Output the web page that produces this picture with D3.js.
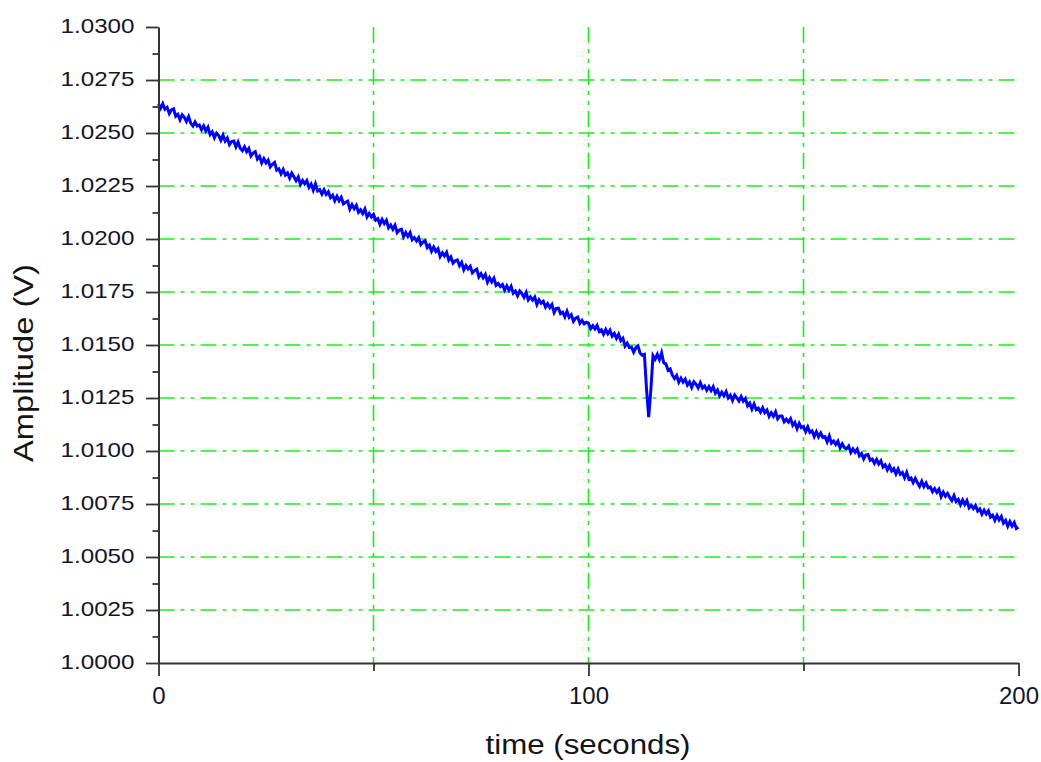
<!DOCTYPE html>
<html>
<head>
<meta charset="utf-8">
<script src="https://cdn.jsdelivr.net/npm/d3@7"></script>
<style>
  html, body { margin: 0; padding: 0; background: #ffffff; }
  svg { display: block; }
</style>
</head>
<body>
<svg id="chart" width="1041" height="762"></svg>
<script>
// Measured voltage, one sample every 0.5 s (rows of 10 s)
const amplitude = [
  1.02639, 1.02617, 1.02638, 1.02612, 1.02621, 1.02592, 1.02609, 1.02614, 1.02579, 1.02588, 1.02562, 1.02586, 1.02574, 1.02554, 1.02577, 1.02547, 1.02533, 1.02552, 1.02533, 1.02538,
  1.02516, 1.02534, 1.02510, 1.02527, 1.02493, 1.02506, 1.02477, 1.02499, 1.02488, 1.02466, 1.02490, 1.02462, 1.02476, 1.02445, 1.02460, 1.02462, 1.02435, 1.02457, 1.02428, 1.02417,
  1.02435, 1.02412, 1.02427, 1.02392, 1.02405, 1.02412, 1.02377, 1.02390, 1.02359, 1.02379, 1.02359, 1.02372, 1.02340, 1.02352, 1.02361, 1.02325, 1.02331, 1.02307, 1.02328, 1.02302,
  1.02312, 1.02287, 1.02311, 1.02294, 1.02275, 1.02293, 1.02257, 1.02276, 1.02260, 1.02275, 1.02244, 1.02259, 1.02230, 1.02260, 1.02227, 1.02233, 1.02212, 1.02232, 1.02210, 1.02223,
  1.02195, 1.02207, 1.02181, 1.02202, 1.02180, 1.02197, 1.02166, 1.02173, 1.02178, 1.02141, 1.02162, 1.02143, 1.02159, 1.02126, 1.02138, 1.02120, 1.02141, 1.02104, 1.02121, 1.02104,
  1.02116, 1.02089, 1.02096, 1.02069, 1.02092, 1.02073, 1.02088, 1.02053, 1.02066, 1.02046, 1.02065, 1.02030, 1.02042, 1.02046, 1.02011, 1.02031, 1.02012, 1.02030, 1.01997, 1.02007,
  1.01991, 1.02006, 1.01974, 1.01985, 1.01992, 1.01960, 1.01971, 1.01942, 1.01962, 1.01941, 1.01954, 1.01917, 1.01935, 1.01920, 1.01937, 1.01901, 1.01915, 1.01886, 1.01897, 1.01901,
  1.01874, 1.01890, 1.01855, 1.01875, 1.01859, 1.01871, 1.01840, 1.01851, 1.01858, 1.01821, 1.01836, 1.01817, 1.01833, 1.01796, 1.01818, 1.01798, 1.01815, 1.01781, 1.01790, 1.01776,
  1.01785, 1.01759, 1.01779, 1.01758, 1.01777, 1.01744, 1.01754, 1.01732, 1.01755, 1.01743, 1.01725, 1.01748, 1.01713, 1.01727, 1.01712, 1.01726, 1.01691, 1.01713, 1.01697, 1.01706,
  1.01679, 1.01695, 1.01676, 1.01691, 1.01653, 1.01673, 1.01674, 1.01648, 1.01655, 1.01633, 1.01659, 1.01631, 1.01643, 1.01612, 1.01627, 1.01632, 1.01602, 1.01616, 1.01600, 1.01607,
  1.01602, 1.01577, 1.01591, 1.01576, 1.01592, 1.01564, 1.01572, 1.01551, 1.01573, 1.01553, 1.01570, 1.01542, 1.01555, 1.01532, 1.01551, 1.01521, 1.01532, 1.01495, 1.01509, 1.01488,
  1.01490, 1.01466, 1.01487, 1.01496, 1.01461, 1.01452, 1.01456, 1.01290, 1.01160, 1.01288, 1.01450, 1.01433, 1.01456, 1.01431, 1.01463, 1.01415, 1.01411, 1.01381, 1.01387, 1.01358,
  1.01342, 1.01357, 1.01325, 1.01344, 1.01325, 1.01339, 1.01311, 1.01326, 1.01300, 1.01326, 1.01315, 1.01298, 1.01322, 1.01297, 1.01307, 1.01286, 1.01304, 1.01285, 1.01303, 1.01273,
  1.01288, 1.01260, 1.01277, 1.01260, 1.01280, 1.01250, 1.01263, 1.01238, 1.01264, 1.01251, 1.01236, 1.01257, 1.01235, 1.01248, 1.01213, 1.01226, 1.01198, 1.01222, 1.01195, 1.01202,
  1.01184, 1.01204, 1.01181, 1.01193, 1.01163, 1.01181, 1.01164, 1.01185, 1.01152, 1.01165, 1.01165, 1.01138, 1.01150, 1.01136, 1.01152, 1.01121, 1.01135, 1.01105, 1.01130, 1.01110,
  1.01116, 1.01091, 1.01114, 1.01088, 1.01095, 1.01068, 1.01091, 1.01067, 1.01085, 1.01064, 1.01068, 1.01043, 1.01071, 1.01037, 1.01047, 1.01031, 1.01046, 1.01015, 1.01034, 1.01016,
  1.01010, 1.01023, 1.00993, 1.01010, 1.00994, 1.01009, 1.00977, 1.00988, 1.00963, 1.00982, 1.00983, 1.00956, 1.00962, 1.00942, 1.00960, 1.00939, 1.00954, 1.00925, 1.00935, 1.00911,
  1.00931, 1.00906, 1.00917, 1.00892, 1.00915, 1.00890, 1.00899, 1.00874, 1.00899, 1.00867, 1.00873, 1.00851, 1.00871, 1.00850, 1.00833, 1.00857, 1.00832, 1.00849, 1.00826, 1.00830,
  1.00808, 1.00823, 1.00805, 1.00820, 1.00784, 1.00806, 1.00787, 1.00800, 1.00781, 1.00766, 1.00790, 1.00762, 1.00772, 1.00747, 1.00769, 1.00748, 1.00766, 1.00732, 1.00743, 1.00728,
  1.00743, 1.00717, 1.00727, 1.00702, 1.00721, 1.00703, 1.00718, 1.00688, 1.00697, 1.00673, 1.00696, 1.00675, 1.00691, 1.00660, 1.00673, 1.00645, 1.00667, 1.00646, 1.00663, 1.00634,
  1.00640
];
const sampleStep = 0.5; // seconds between samples

const xTicks = [0, 100, 200];
const xMinorTicks = [50, 150];
const xGrid = [50, 100, 150];
const yTicks = [1.0000, 1.0025, 1.0050, 1.0075, 1.0100, 1.0125, 1.0150, 1.0175, 1.0200, 1.0225, 1.0250, 1.0275, 1.0300];
const yMinorTicks = [1.00125, 1.00375, 1.00625, 1.00875, 1.01125, 1.01375, 1.01625, 1.01875, 1.02125, 1.02375, 1.02625, 1.02875];
const yGrid = [1.0025, 1.0050, 1.0075, 1.0100, 1.0125, 1.0150, 1.0175, 1.0200, 1.0225, 1.0250, 1.0275];
const xTitle = "time (seconds)";
const yTitle = "Amplitude (V)";

const font = "'Liberation Sans', Arial, sans-serif";
const svg = d3.select("#chart");
svg.append("rect").attr("width", 1041).attr("height", 762).attr("fill", "#ffffff");

const x = d3.scaleLinear().domain([0, 200]).range([158.5, 1018.5]);
const y = d3.scaleLinear().domain([1.0, 1.03]).range([663, 27]);

// dash-dot-dot grid
const gridColor = "#1aee1a";
const gridDash = "16,6,4,6,4,6";
const grid = svg.append("g");
grid.selectAll("line.h").data(yGrid).join("line")
  .attr("class", "h")
  .attr("x1", x(0)).attr("x2", x(200))
  .attr("y1", d => y(d)).attr("y2", d => y(d))
  .attr("stroke", gridColor).attr("stroke-width", 1.6).attr("stroke-dasharray", gridDash);
grid.selectAll("line.v").data(xGrid).join("line")
  .attr("class", "v")
  .attr("x1", d => x(d)).attr("x2", d => x(d))
  .attr("y1", y(1.03)).attr("y2", y(1.0))
  .attr("stroke", gridColor).attr("stroke-width", 1.6).attr("stroke-dasharray", gridDash);

// signal trace
const line = d3.line()
  .x((d, i) => x(i * sampleStep))
  .y(d => y(d));
svg.append("path")
  .datum(amplitude)
  .attr("d", line)
  .attr("fill", "none")
  .attr("stroke", "#0000ff")
  .attr("stroke-width", 3)
  .attr("stroke-linejoin", "miter");

const axisColor = "#333333";
function styleAxis(g) {
  g.select(".domain").attr("stroke", axisColor).attr("stroke-width", 2);
  g.selectAll(".tick line").attr("stroke", axisColor).attr("stroke-width", 1.8);
}

// y axis: labelled major ticks plus unlabelled minor ticks
const yAxisG = svg.append("g")
  .attr("transform", `translate(${x(0)},0)`)
  .call(d3.axisLeft(y).tickValues(yTicks).tickSize(12.5).tickSizeOuter(0).tickPadding(11.5).tickFormat(d3.format(".4f")))
  .call(styleAxis);
yAxisG.selectAll(".tick text")
  .attr("font-family", font).attr("font-size", 21).attr("fill", "#141428")
  .attr("dy", "0.28em")
  .attr("textLength", 74).attr("lengthAdjust", "spacingAndGlyphs");
svg.append("g")
  .attr("transform", `translate(${x(0)},0)`)
  .call(d3.axisLeft(y).tickValues(yMinorTicks).tickSize(6).tickFormat(""))
  .call(g => g.select(".domain").remove())
  .call(styleAxis);

// x axis
const xAxisG = svg.append("g")
  .attr("transform", `translate(0,${y(1.0)})`)
  .call(d3.axisBottom(x).tickValues(xTicks).tickSize(13).tickSizeOuter(0).tickFormat(d3.format("d")))
  .call(styleAxis);
xAxisG.selectAll(".tick text")
  .attr("font-family", font).attr("font-size", 24).attr("fill", "#141428")
  .attr("y", 41).attr("dy", 0);
svg.append("g")
  .attr("transform", `translate(0,${y(1.0)})`)
  .call(d3.axisBottom(x).tickValues(xMinorTicks).tickSize(8).tickFormat(""))
  .call(g => g.select(".domain").remove())
  .call(styleAxis);

// axis titles
svg.append("text")
  .attr("transform", "translate(33,363) rotate(-90)")
  .attr("text-anchor", "middle")
  .attr("font-family", font).attr("font-size", 28).attr("fill", "#141414")
  .attr("textLength", 198).attr("lengthAdjust", "spacingAndGlyphs")
  .text(yTitle);
svg.append("text")
  .attr("x", 588).attr("y", 754)
  .attr("text-anchor", "middle")
  .attr("font-family", font).attr("font-size", 27).attr("fill", "#141414")
  .attr("textLength", 205).attr("lengthAdjust", "spacingAndGlyphs")
  .text(xTitle);
</script>
</body>
</html>
